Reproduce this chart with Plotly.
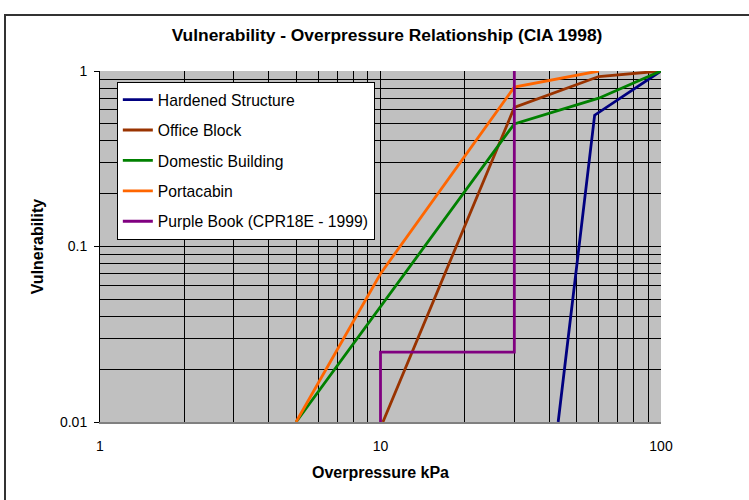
import plotly.graph_objects as go

# ---- data ----
hard_x = [43, 58, 100]
hard_y = [0.01, 0.56, 1.0]
office_x = [10.2, 30, 60, 100]
office_y = [0.01, 0.62, 0.93, 1.0]
domestic_x = [5, 30, 60, 100]
domestic_y = [0.01, 0.50, 0.70, 1.0]
porta_x = [5, 10, 30, 60]
porta_y = [0.01, 0.07, 0.81, 1.0]
purple_x = [10, 10, 30, 30]
purple_y = [0.01, 0.025, 0.025, 1.0]

series = [
    ("Hardened Structure", hard_x, hard_y, "#000080"),
    ("Office Block", office_x, office_y, "#993300"),
    ("Domestic Building", domestic_x, domestic_y, "#008000"),
    ("Portacabin", porta_x, porta_y, "#FF6600"),
    ("Purple Book (CPR18E - 1999)", purple_x, purple_y, "#800080"),
]

x_major = [1, 10, 100]
x_major_text = ["1", "10", "100"]
x_minor = [2, 3, 4, 5, 6, 7, 8, 9, 20, 30, 40, 50, 60, 70, 80, 90]
y_major = [0.01, 0.1, 1]
y_major_text = ["0.01", "0.1", "1"]
y_minor = [0.02, 0.03, 0.04, 0.05, 0.06, 0.07, 0.08, 0.09,
           0.2, 0.3, 0.4, 0.5, 0.6, 0.7, 0.8, 0.9]

FONT = "Liberation Sans, Arial, sans-serif"

fig = go.Figure()
for i, (name, xs, ys, col) in enumerate(series):
    fig.add_trace(go.Scatter(x=xs, y=ys, mode="lines", name=name,
                             legendgroup=f"g{i}",
                             line=dict(color=col, width=2.8)))

fig.update_layout(
    width=749, height=500,
    margin=dict(l=100, r=88, t=71, b=78),
    paper_bgcolor="white",
    plot_bgcolor="#C0C0C0",
    font=dict(family=FONT, size=14, color="black"),
    title=dict(text="<b>Vulnerability - Overpressure Relationship (CIA 1998)</b>",
               x=387/749, xanchor="center", y=1-35/500, yanchor="middle",
               yref="container", font=dict(size=17.4)),
    showlegend=True,
    legend=dict(x=0.03, y=0.969, xanchor="left", yanchor="top",
                bgcolor="white", bordercolor="black", borderwidth=1,
                font=dict(size=15.7), tracegroupgap=7),
    xaxis=dict(type="log", range=[0, 2], tickvals=x_major, ticktext=x_major_text,
               showgrid=True, gridcolor="black", gridwidth=1,
               minor=dict(tickvals=x_minor, showgrid=True, gridcolor="black", gridwidth=1, ticks=""),
               ticks="", ticklabelstandoff=10, tickfont=dict(size=14),
               showline=True, linecolor="#808080", linewidth=2,
               zeroline=False,
               title=dict(text="<b>Overpressure kPa</b>", standoff=14, font=dict(size=16))),
    yaxis=dict(type="log", range=[-2, 0], tickvals=y_major, ticktext=y_major_text,
               showgrid=True, gridcolor="black", gridwidth=1,
               minor=dict(tickvals=y_minor, showgrid=True, gridcolor="black", gridwidth=1, ticks=""),
               ticks="outside", ticklen=5, tickcolor="black", tickfont=dict(size=14),
               ticklabelstandoff=4,
               showline=True, linecolor="black", linewidth=1,
               zeroline=False,
               title=dict(text="<b>Vulnerability</b>", standoff=12, font=dict(size=16))),
    shapes=[dict(type="rect", xref="paper", yref="paper",
                 x0=(5-100)/561, x1=1.3, y0=-0.4, y1=1+(71-15)/351,
                 line=dict(color="#333333", width=2), fillcolor="rgba(0,0,0,0)", layer="below")],
)

fig.write_html("out.html", config={"displayModeBar": False},
               post_script="document.body.style.margin='0';")
